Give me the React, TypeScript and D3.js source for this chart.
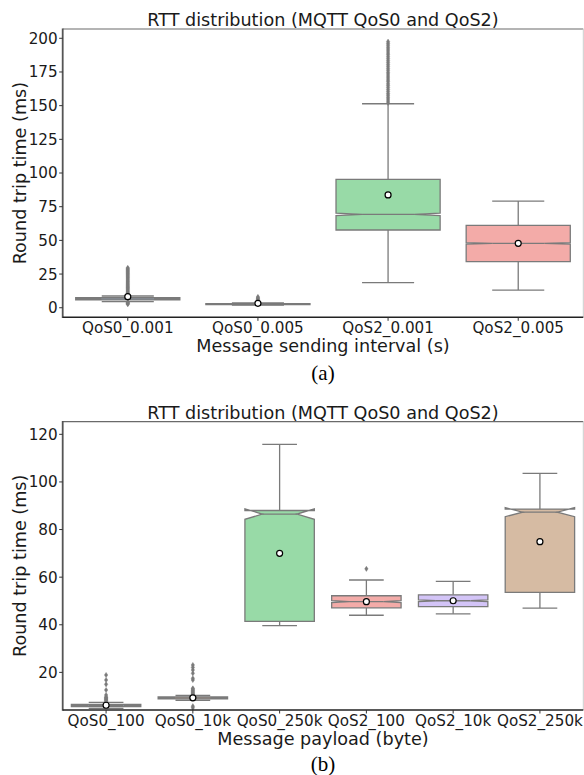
import React from 'react';
import * as d3 from 'd3';

const TITLE = 'RTT distribution (MQTT QoS0 and QoS2)';
const Y_LABEL = 'Round trip time (ms)';

// ---------- Panel (a) ----------
const catsA = ['QoS0_0.001', 'QoS0_0.005', 'QoS2_0.001', 'QoS2_0.005'];
const colorsA = ['#abc9ea', '#efb792', '#98daa7', '#f3aba8'];
const q1A = [5.8, 2.4, 57.7, 34.2];
const medA = [6.6, 2.8, 69.3, 47.8];
const q3A = [7.5, 3.1, 95.3, 61.2];
const whiskLoA = [4.6, 2.0, 18.6, 13.1];
const whiskHiA = [8.7, 3.6, 151.4, 79.2];
const notchA = [0.1, 0.05, 1.0, 0.6];
const meanA = [8.2, 3.3, 83.7, 47.8];
const fliersA0 = [2.6, 3.0, 3.4, 3.9, 4.3, 9.0, 9.6, 10.3, 11.0, 11.6, 12.3, 13.0, 13.7, 14.4, 15.0, 15.7, 16.4, 17.1, 17.8, 18.5, 19.2, 19.9, 20.6, 21.3, 22.0, 22.7, 23.4, 24.1, 24.8, 25.5, 26.2, 26.9, 27.6, 28.3, 29.0, 29.6];
const fliersA1 = [4.0, 4.5, 5.0, 5.6, 6.1, 6.7, 7.3, 8.0];
const fliersA2 = [152.0, 153.4, 154.9, 156.3, 157.8, 159.1, 160.6, 162.0, 163.5, 164.9, 166.2, 167.8, 169.1, 170.6, 172.0, 173.5, 174.8, 176.3, 177.7, 179.2, 180.6, 182.0, 183.4, 184.9, 186.3, 187.8, 189.1, 190.6, 192.0, 193.4, 194.9, 196.2, 197.5];
const fliersA3: number[] = [];
const yTicksA = [0, 25, 50, 75, 100, 125, 150, 175, 200];
const yDomainA = [-7.1, 206.9];
const xLabelA = 'Message sending interval (s)';
const tagA = '(a)';

// ---------- Panel (b) ----------
const catsB = ['QoS0_100', 'QoS0_10k', 'QoS0_250k', 'QoS2_100', 'QoS2_10k', 'QoS2_250k'];
const colorsB = ['#abc9ea', '#efb792', '#98daa7', '#f3aba8', '#d3c4f7', '#d6bba3'];
const q1B = [5.6, 8.9, 41.4, 47.1, 47.6, 53.6];
const medB = [6.0, 9.3, 86.5, 49.7, 50.1, 87.3];
const q3B = [6.6, 9.7, 88.0, 52.2, 52.6, 88.6];
const whiskLoB = [4.9, 8.3, 39.6, 44.0, 44.6, 47.0];
const whiskHiB = [7.4, 10.3, 115.8, 58.8, 58.2, 103.6];
const notchB = [0.1, 0.1, 2.2, 0.4, 0.4, 1.9];
const meanB = [6.2, 9.3, 70.0, 49.7, 50.1, 74.9];
const fliersB0 = [7.6, 7.9, 8.2, 8.5, 8.8, 9.1, 9.4, 9.7, 10.5, 12.6, 15.0, 16.8, 18.9];
const fliersB1 = [5.1, 5.8, 10.6, 10.9, 11.2, 11.6, 11.9, 12.3, 12.6, 13.0, 13.3, 16.8, 17.5, 19.6, 21.0, 22.1, 23.1];
const fliersB2: number[] = [];
const fliersB3 = [63.5];
const fliersB4: number[] = [];
const fliersB5: number[] = [];
const yTicksB = [20, 40, 60, 80, 100, 120];
const yDomainB = [4.2, 125.3];
const xLabelB = 'Message payload (byte)';
const tagB = '(b)';

const SANS = 'DejaVu Sans, sans-serif';
const SERIF = 'Liberation Serif, Times New Roman, serif';
const LINE = '#7a7a7a';

type PanelProps = {
  cats: string[];
  colors: string[];
  q1: number[];
  med: number[];
  q3: number[];
  lo: number[];
  hi: number[];
  notch: number[];
  mean: number[];
  fliers: number[][];
  yTicks: number[];
  yDomain: number[];
  xLabel: string;
  tag: string;
  top: number;
  bottom: number;
  tagOffset: number;
};

const LEFT = 62.7;
const RIGHT = 583.3;

function Panel(p: PanelProps) {
  const x = d3.scaleBand<string>().domain(p.cats).range([LEFT, RIGHT]).paddingInner(0).paddingOuter(0);
  const y = d3.scaleLinear().domain(p.yDomain).range([p.bottom, p.top]);
  const bw = x.bandwidth() * 0.8;
  const midX = (LEFT + RIGHT) / 2;
  const midY = (p.top + p.bottom) / 2;
  const diamond = 'M0,-2.6L1.7,0L0,2.6L-1.7,0Z';

  return (
    <g>
      <defs>
        <clipPath id={'clip' + p.tag}>
          <rect x={LEFT} y={p.top} width={RIGHT - LEFT} height={p.bottom - p.top} />
        </clipPath>
      </defs>
      <text x={midX} y={p.top - 3} textAnchor="middle" fontFamily={SANS} fontSize={17.6} fill="#1a1a1a">
        {TITLE}
      </text>
      <g clipPath={`url(#clip${p.tag})`}>
        {p.cats.map((c, i) => {
          const cx = x(c)! + x.bandwidth() / 2;
          const L = cx - bw / 2;
          const R = cx + bw / 2;
          const tL = cx - bw / 4;
          const tR = cx + bw / 4;
          const nLo = p.med[i] - p.notch[i];
          const nHi = p.med[i] + p.notch[i];
          const path = [
            [L, y(p.q1[i])],
            [L, y(nLo)],
            [tL, y(p.med[i])],
            [L, y(nHi)],
            [L, y(p.q3[i])],
            [R, y(p.q3[i])],
            [R, y(nHi)],
            [tR, y(p.med[i])],
            [R, y(nLo)],
            [R, y(p.q1[i])],
          ];
          const d = 'M' + path.map((pt) => pt.join(',')).join('L') + 'Z';
          return (
            <g key={c}>
              <line x1={cx} x2={cx} y1={y(p.q1[i])} y2={y(p.lo[i])} stroke={LINE} strokeWidth={1.3} />
              <line x1={cx} x2={cx} y1={y(p.q3[i])} y2={y(p.hi[i])} stroke={LINE} strokeWidth={1.3} />
              <line x1={tL} x2={tR} y1={y(p.lo[i])} y2={y(p.lo[i])} stroke={LINE} strokeWidth={1.3} />
              <line x1={tL} x2={tR} y1={y(p.hi[i])} y2={y(p.hi[i])} stroke={LINE} strokeWidth={1.3} />
              <path d={d} fill={p.colors[i]} stroke={LINE} strokeWidth={1.3} strokeLinejoin="miter" />
              <line x1={tL} x2={tR} y1={y(p.med[i])} y2={y(p.med[i])} stroke={LINE} strokeWidth={1.3} />
              {p.fliers[i].map((v, k) => (
                <path key={k} d={diamond} transform={`translate(${cx},${y(v)})`} fill={LINE} stroke={LINE} strokeWidth={0.4} />
              ))}
              <circle cx={cx} cy={y(p.mean[i])} r={3} fill="#ffffff" stroke="#000000" strokeWidth={1.2} />
            </g>
          );
        })}
      </g>
      {/* spines */}
      <line x1={LEFT} x2={RIGHT} y1={p.top} y2={p.top} stroke="#6a6a6a" strokeWidth={1.2} />
      <line x1={RIGHT} x2={RIGHT} y1={p.top} y2={p.bottom} stroke="#cccccc" strokeWidth={1} />
      <line x1={LEFT} x2={LEFT} y1={p.top - 0.6} y2={p.bottom + 0.8} stroke="#555555" strokeWidth={1.8} />
      <line x1={LEFT} x2={RIGHT} y1={p.bottom} y2={p.bottom} stroke="#222222" strokeWidth={1.5} />
      {/* y ticks */}
      {p.yTicks.map((t) => (
        <g key={t}>
          <line x1={LEFT - 3.5} x2={LEFT} y1={y(t)} y2={y(t)} stroke="#333" strokeWidth={1} />
          <text x={LEFT - 5} y={y(t)} dy="0.36em" textAnchor="end" fontFamily={SANS} fontSize={15.2} fill="#1a1a1a">
            {t}
          </text>
        </g>
      ))}
      {/* x ticks */}
      {p.cats.map((c) => {
        const cx = x(c)! + x.bandwidth() / 2;
        return (
          <g key={c}>
            <line x1={cx} x2={cx} y1={p.bottom} y2={p.bottom + 3.5} stroke="#333" strokeWidth={1} />
            <text x={cx} y={p.bottom + 15.5} textAnchor="middle" fontFamily={SANS} fontSize={15.2} fill="#1a1a1a">
              {c}
            </text>
          </g>
        );
      })}
      <text x={midX} y={p.bottom + 34.5} textAnchor="middle" fontFamily={SANS} fontSize={17.6} fill="#1a1a1a">
        {p.xLabel}
      </text>
      <text transform={`translate(25.5,${midY}) rotate(-90)`} textAnchor="middle" fontFamily={SANS} fontSize={17.6} fill="#1a1a1a">
        {Y_LABEL}
      </text>
      <text x={midX} y={p.bottom + p.tagOffset} textAnchor="middle" fontFamily={SERIF} fontSize={21} fill="#000">
        {p.tag}
      </text>
    </g>
  );
}

export default function App() {
  return (
    <svg
      width={584}
      height={775}
      viewBox="0 0 584 775"
      style={{ position: 'absolute', left: 0, top: 0, background: '#fff' }}
    >
      <rect x={0} y={0} width={584} height={775} fill="#fff" />
      <Panel
        cats={catsA}
        colors={colorsA}
        q1={q1A}
        med={medA}
        q3={q3A}
        lo={whiskLoA}
        hi={whiskHiA}
        notch={notchA}
        mean={meanA}
        fliers={[fliersA0, fliersA1, fliersA2, fliersA3]}
        yTicks={yTicksA}
        yDomain={yDomainA}
        xLabel={xLabelA}
        tag={tagA}
        top={29}
        bottom={317.3}
        tagOffset={62.5}
      />
      <Panel
        cats={catsB}
        colors={colorsB}
        q1={q1B}
        med={medB}
        q3={q3B}
        lo={whiskLoB}
        hi={whiskHiB}
        notch={notchB}
        mean={meanB}
        fliers={[fliersB0, fliersB1, fliersB2, fliersB3, fliersB4, fliersB5]}
        yTicks={yTicksB}
        yDomain={yDomainB}
        xLabel={xLabelB}
        tag={tagB}
        top={421.7}
        bottom={710}
        tagOffset={61}
      />
    </svg>
  );
}
